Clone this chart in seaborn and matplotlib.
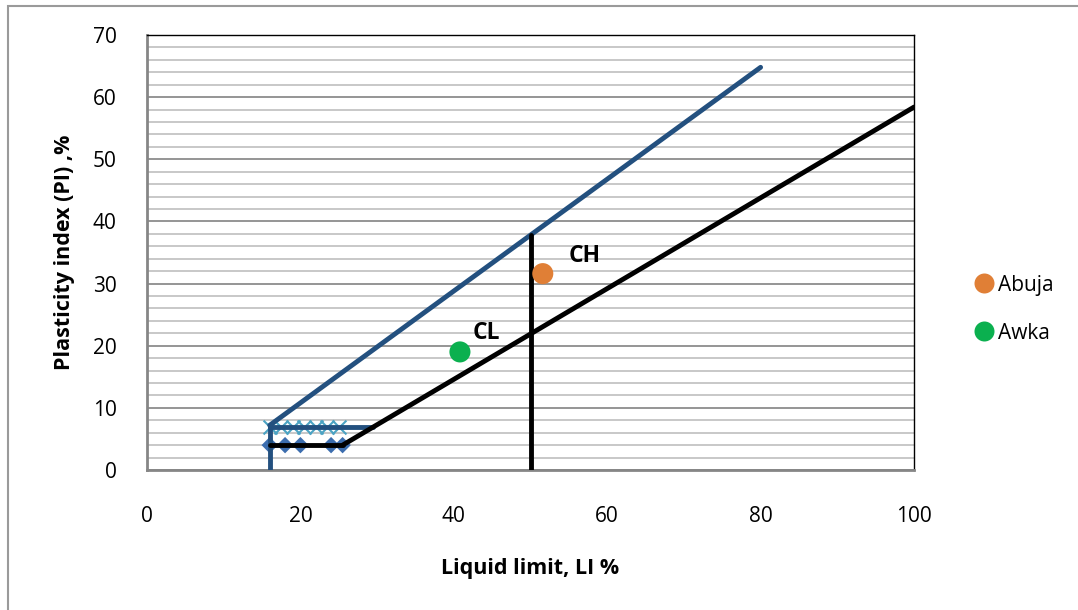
import matplotlib
matplotlib.use("Agg")
import matplotlib.pyplot as plt
import seaborn as sns
import pandas as pd
from matplotlib.ticker import MultipleLocator
from matplotlib.patches import Rectangle

# ---- data ----
u_line_ll = [16, 80]
u_line_pi = [7.2, 64.8]
u_horiz_ll = [16, 29.5]
u_horiz_pi = [7, 7]
u_vert_ll = [16, 16]
u_vert_pi = [0, 7]
a_line_ll = [25.5, 100]
a_line_pi = [4, 58.4]
a_horiz_ll = [16, 25.5]
a_horiz_pi = [4, 4]
ll50_ll = [50, 50]
ll50_pi = [0, 37.8]
diamond_ll = [16, 18, 20, 24, 25.5]
diamond_pi = [4, 4, 4, 4, 4]
cross_ll = [16, 17.5, 19, 20.5, 22, 23.5, 25]
cross_pi = [7, 7, 7, 7, 7, 7, 7]
soil_names = ["Abuja", "Awka"]
soil_ll = [51.6, 40.8]
soil_pi = [31.6, 19.0]
soil_colors = ["#E07F36", "#0BB04F"]
x_ticks = [0, 20, 40, 60, 80, 100]
y_ticks = [0, 10, 20, 30, 40, 50, 60, 70]

sns.set_style("white")
plt.rcParams['font.family'] = ['Open Sans', 'DejaVu Sans']
plt.rcParams['text.color'] = 'black'
plt.rcParams['axes.labelcolor'] = 'black'
plt.rcParams['xtick.color'] = 'black'
plt.rcParams['ytick.color'] = 'black'

fig = plt.figure(figsize=(10.78, 6.10), dpi=100)
ax = fig.add_axes([147/1078, 1 - 470/610, (914-147)/1078, (470-35)/610])

blue = "#23507F"
black = "#000000"

def seg(x, y, color, lw=3.5, z=3):
    sns.lineplot(x=x, y=y, ax=ax, color=color, lw=lw, sort=False,
                 estimator=None, legend=False, zorder=z,
                 solid_capstyle="round")

seg(u_line_ll, u_line_pi, blue)
seg(u_horiz_ll, u_horiz_pi, blue)
seg(u_vert_ll, u_vert_pi, blue, z=3)
seg(a_line_ll, a_line_pi, black)
seg(a_horiz_ll, a_horiz_pi, black, z=4)
seg(ll50_ll, ll50_pi, black)

sns.scatterplot(x=diamond_ll, y=diamond_pi, ax=ax, marker="D", s=70,
                color="#3C6DAE", edgecolor="none", zorder=2, legend=False)
sns.scatterplot(x=cross_ll, y=cross_pi, ax=ax, marker="x", s=100,
                color="#4BA3C3", linewidth=1.5, zorder=2, legend=False)

soil_df = pd.DataFrame({"LL": soil_ll, "PI": soil_pi, "Soil": soil_names})
sns.scatterplot(data=soil_df, x="LL", y="PI", hue="Soil",
                palette=dict(zip(soil_names, soil_colors)), s=230,
                edgecolor="none", ax=ax, zorder=5)

ax.text(57, 34.5, "CH", fontsize=16.5, fontweight="bold", ha="center", va="center")
ax.text(44.3, 22, "CL", fontsize=16.5, fontweight="bold", ha="center", va="center")

ax.set_xlim(0, 100)
ax.set_ylim(0, 70)
ax.set_xticks(x_ticks)
ax.set_yticks(y_ticks)
ax.yaxis.set_minor_locator(MultipleLocator(2))
ax.grid(which="major", axis="y", color="#8C8C8C", lw=1.3, zorder=0)
ax.grid(which="minor", axis="y", color="#C4C4C4", lw=1.3, zorder=0)
ax.set_axisbelow(True)
ax.tick_params(axis="both", which="both", length=0, labelsize=15)
ax.tick_params(axis="x", pad=26)
ax.tick_params(axis="y", pad=22)

for s in ["top", "right"]:
    ax.spines[s].set_color("black")
    ax.spines[s].set_linewidth(1.0)
for s in ["left", "bottom"]:
    ax.spines[s].set_color("#868686")
    ax.spines[s].set_linewidth(2.0)

ax.set_xlabel("Liquid limit, LI %", fontsize=15.5, fontweight="bold", labelpad=22)
ax.set_ylabel("Plasticity index (PI) ,%", fontsize=15.5, fontweight="bold", labelpad=13)

leg = ax.legend(loc="center left", bbox_to_anchor=(1.067, 0.37), frameon=False,
                fontsize=15, handletextpad=0.15, labelspacing=1.3,
                handlelength=1.0, markerscale=0.95, borderaxespad=0)

fig.patches.append(Rectangle((8/1078, -0.1), 1.2, 1 - 6/610 + 0.1,
                             transform=fig.transFigure, fill=False,
                             edgecolor="#9A9A9A", lw=1.5, zorder=0))

fig.savefig("out.png", dpi=100)
